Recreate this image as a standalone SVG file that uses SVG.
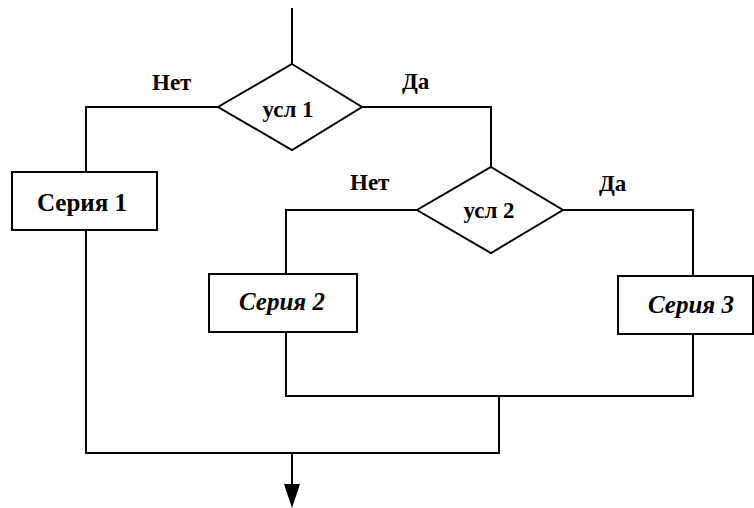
<svg xmlns="http://www.w3.org/2000/svg" width="754" height="508" viewBox="0 0 754 508">
  <defs>
    <style>
      .shape { fill: #ffffff; stroke: #000000; stroke-width: 2; }
      .wire { fill: none; stroke: #000000; stroke-width: 2; }
      .lbl { font-family: "Liberation Serif", "Times New Roman", serif; font-weight: bold; font-size: 23px; fill: #000000; }
      .big { font-size: 25px; }
      .mid { text-anchor: middle; }
      .it { font-style: italic; }
    </style>
  </defs>
  <rect width="754" height="508" fill="#ffffff"/>

  <g id="connectors">
    <!-- entry -->
    <path class="wire" d="M292,8 V64"/>
    <!-- condition 1: "no" branch -->
    <path class="wire" d="M218,107 H86 V172"/>
    <!-- condition 1: "yes" branch -->
    <path class="wire" d="M362,107 H491 V167"/>
    <!-- condition 2: "no" branch -->
    <path class="wire" d="M417,210 H286 V274"/>
    <!-- condition 2: "yes" branch -->
    <path class="wire" d="M563,210 H693 V276"/>
    <!-- inner merge -->
    <path class="wire" d="M286,332 V396 H693 V334"/>
    <!-- outer merge -->
    <path class="wire" d="M86,230 V453 H499 V396"/>
    <!-- exit with arrowhead -->
    <path class="wire" d="M292,453 V485"/>
    <path d="M284,484 L300,484 L292,508 Z" fill="#000000"/>
  </g>

  <g id="cond1">
    <polygon class="shape" points="292,64 362,107 292,150 218,107"/>
    <text class="lbl mid" x="288" y="117">усл 1</text>
  </g>
  <g id="cond2">
    <polygon class="shape" points="491,167 563,210 491,253 417,210"/>
    <text class="lbl mid" x="489" y="218">усл 2</text>
  </g>
  <g id="series1">
    <rect class="shape" x="12" y="172" width="145" height="58"/>
    <text class="lbl big mid" x="82" y="211">Серия 1</text>
  </g>
  <g id="series2">
    <rect class="shape" x="209" y="274" width="148" height="58"/>
    <text class="lbl big mid it" x="282" y="310">Серия 2</text>
  </g>
  <g id="series3">
    <rect class="shape" x="618" y="276" width="135" height="58"/>
    <text class="lbl big mid it" x="691" y="313">Серия 3</text>
  </g>

  <g id="labels">
    <text class="lbl" x="152" y="90">Нет</text>
    <text class="lbl" x="402" y="89">Да</text>
    <text class="lbl" x="350" y="190">Нет</text>
    <text class="lbl" x="599" y="191">Да</text>
  </g>
</svg>
